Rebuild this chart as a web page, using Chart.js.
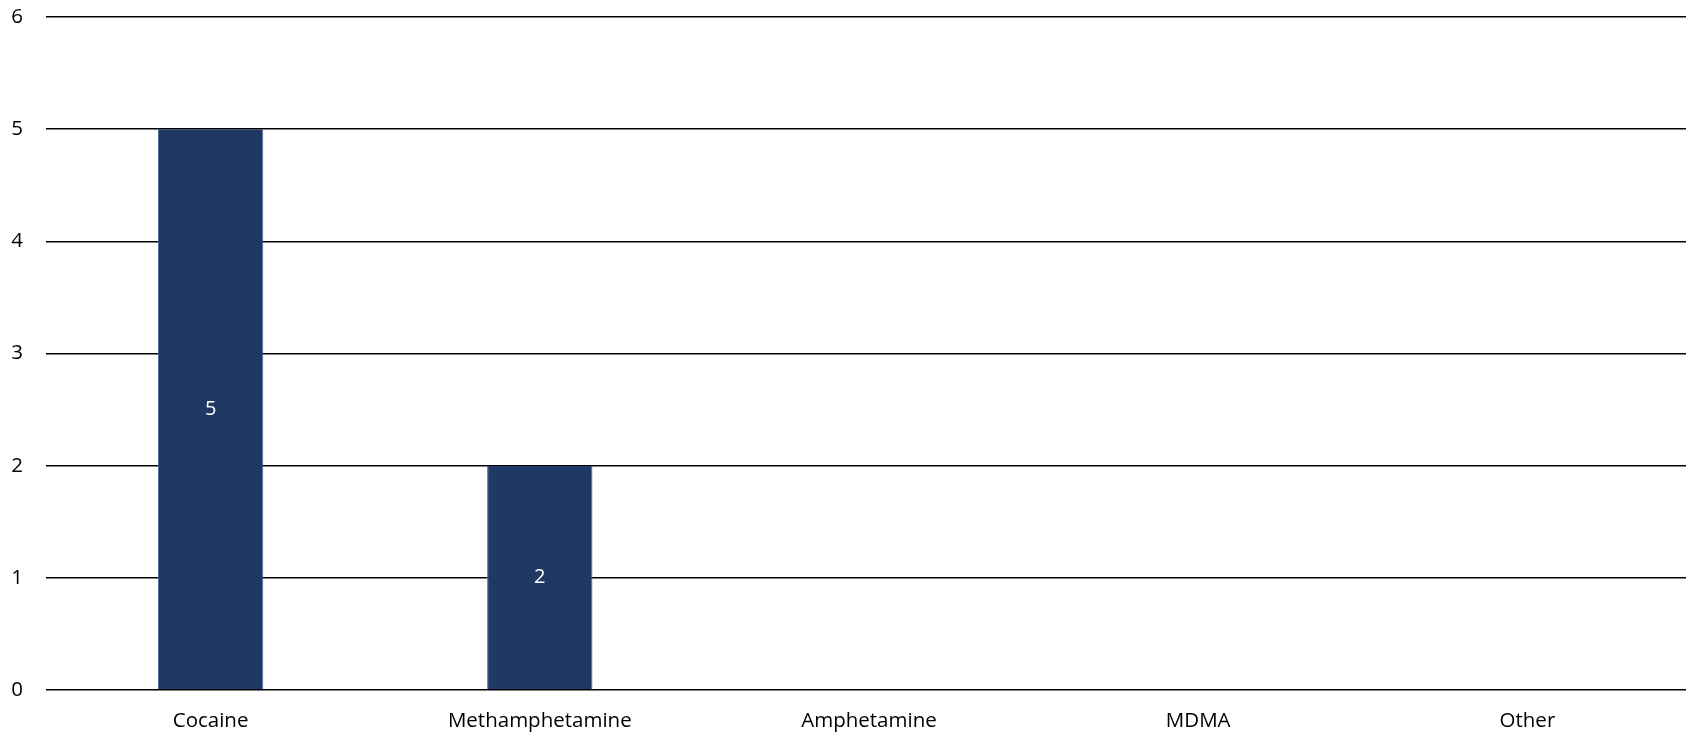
<!DOCTYPE html>
<html>
<head>
<meta charset="utf-8">
<script src="https://cdn.jsdelivr.net/npm/chart.js@4/dist/chart.umd.min.js"></script>
<style>
  html, body { margin: 0; padding: 0; background: #fff; overflow: hidden; }
  #wrap { width: 1692px; height: 733px; }
</style>
</head>
<body>
<div id="wrap"><canvas id="c" width="1692" height="733"></canvas></div>
<script>
const categories = ["Cocaine", "Methamphetamine", "Amphetamine", "MDMA", "Other"];
const counts = [5, 2, null, null, null];
const yTicks = [0, 1, 2, 3, 4, 5, 6];

const FONT = "'Open Sans', 'Liberation Sans', sans-serif";

// Writes each bar's value in white at the bar's centre
const barValueLabels = {
  id: "barValueLabels",
  afterDatasetsDraw(chart) {
    const ctx = chart.ctx;
    const meta = chart.getDatasetMeta(0);
    ctx.save();
    ctx.fillStyle = "#ffffff";
    ctx.font = "20px " + FONT;
    ctx.textAlign = "center";
    ctx.textBaseline = "middle";
    meta.data.forEach((bar, i) => {
      const v = counts[i];
      if (v === null || v === undefined) return;
      const p = bar.getCenterPoint();
      ctx.fillText(String(v), p.x, p.y);
    });
    ctx.restore();
  }
};

new Chart(document.getElementById("c"), {
  type: "bar",
  data: {
    labels: categories,
    datasets: [{
      data: counts,
      backgroundColor: "#203864",
      borderColor: "#4a6694",
      borderWidth: { left: 1, right: 1, top: 0, bottom: 0 },
      barPercentage: 0.32,
      categoryPercentage: 1.0
    }]
  },
  options: {
    responsive: false,
    animation: false,
    layout: { padding: { top: 17, right: 0, left: 0, bottom: 0 } },
    plugins: { legend: { display: false }, tooltip: { enabled: false } },
    scales: {
      x: {
        grid: { display: false, drawTicks: false },
        border: { display: false },
        ticks: { color: "#000", font: { size: 20.5, family: FONT }, padding: 19, maxRotation: 0 },
        afterFit(scale) {
          scale.height = 43;
          scale.paddingLeft = 0;
          scale.paddingRight = 0;
        }
      },
      y: {
        min: 0,
        max: 6,
        afterBuildTicks(scale) { scale.ticks = yTicks.map(v => ({ value: v })); },
        grid: { color: "#000", lineWidth: 1.6, drawTicks: false },
        border: { display: false },
        ticks: { color: "#000", font: { size: 20.5, family: FONT }, padding: 23 },
        afterFit(scale) {
          scale.width = 46;
          scale.paddingTop = 0;
          scale.paddingBottom = 0;
        }
      }
    }
  },
  plugins: [barValueLabels]
});
</script>
</body>
</html>
